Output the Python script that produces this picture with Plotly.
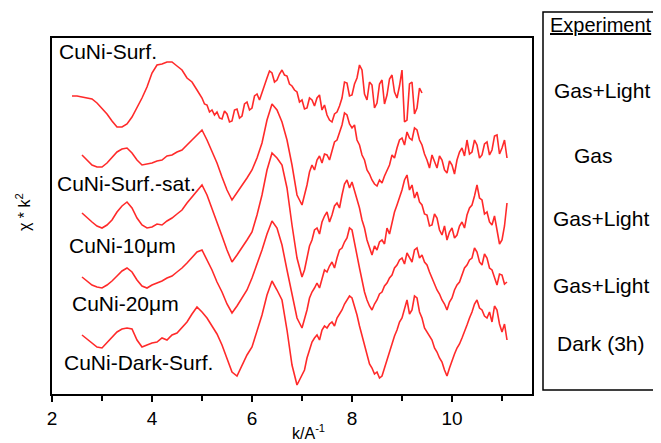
import numpy as np
import plotly.graph_objects as go

# ---- data (chi*k^2, stacked with vertical offsets, arbitrary units) ----
k_surf = np.round(np.concatenate([np.arange(2.4, 4.95, 0.1), np.arange(5.0, 9.4 + 1e-9, 0.05)]), 2)
k_all = np.round(np.concatenate([np.arange(2.6, 6.95, 0.1), np.arange(7.0, 11.1 + 1e-9, 0.05)]), 2)

cuni_surf = [29.8, 29.8, 29.7, 29.6, 29.5, 29.1, 28.6, 28.0, 27.3, 26.7,
             26.7, 27.0, 27.7, 28.6, 29.6, 30.7, 32.1, 32.9, 33.0, 33.2,
             33.2, 32.8, 32.4, 31.6, 31.2, 30.4,
             29.6, 29.0, 28.9, 28.2, 28.4, 27.9, 28.2, 27.6, 27.5, 28.3,
             28.0, 27.2, 27.3, 28.4, 28.5, 27.6, 27.8, 29.0, 29.2, 28.4,
             28.6, 29.8, 30.0, 29.4, 30.2, 31.0, 31.6, 32.3, 32.1, 31.2,
             31.4, 32.0, 32.4, 31.9, 31.8, 31.0, 30.8, 30.4, 30.2, 29.2,
             29.4, 28.5, 28.6, 29.6, 29.4, 28.8, 29.6, 29.9, 28.4, 28.9,
             27.9, 27.4, 27.2, 28.0, 28.2, 28.8, 29.6, 31.2, 31.1, 29.8,
             29.9, 31.0, 31.6, 32.9, 32.4, 30.0, 29.4, 31.2, 30.9, 28.6,
             29.1, 31.0, 31.4, 29.0, 29.9, 31.5, 31.9, 30.2, 29.6, 30.8,
             32.4, 27.2, 27.4, 31.0, 31.2, 28.0, 28.6, 30.6, 30.1]

cuni_surf_sat = [23.9, 23.4, 22.9, 22.7, 22.7, 23.1, 23.7, 24.2, 24.5, 24.6,
                 24.1, 23.4, 22.9, 23.0, 23.1, 23.3, 23.4, 23.8, 23.9, 24.2,
                 24.4, 24.9, 25.4, 25.8, 26.4, 25.4, 24.2, 23.1, 21.7, 20.4,
                 19.4, 20.1, 20.9, 21.6, 22.4, 23.6, 25.1, 27.4, 29.0, 28.4,
                 27.2, 25.4, 22.9, 19.9,
                 18.9, 19.8, 20.9, 22.2, 22.9, 22.4, 23.4, 23.8, 23.1, 24.0,
                 23.9, 23.4, 24.4, 25.2, 25.4, 26.2, 26.9, 28.1, 27.9, 27.0,
                 26.6, 26.9, 25.4, 24.9, 23.9, 23.4, 22.4, 22.0, 21.4, 21.0,
                 20.8, 21.4, 21.1, 21.8, 22.4, 22.9, 23.9, 23.6, 24.6, 25.4,
                 25.6, 24.9, 26.2, 25.6, 25.4, 26.6, 26.4, 25.4, 24.9, 24.0,
                 23.4, 22.6, 23.9, 23.2, 22.6, 23.8, 23.4, 22.4, 22.1, 23.3,
                 22.9, 22.0, 23.4, 24.2, 24.6, 23.8, 25.4, 24.0, 24.2, 25.4,
                 24.9, 23.6, 23.9, 25.0, 25.2, 23.9, 24.4, 25.8, 25.9, 24.0,
                 24.6, 25.4, 23.6]

cuni_10um = [18.1, 17.6, 17.2, 16.8, 16.6, 16.9, 17.4, 18.2, 18.8, 19.2,
             18.6, 17.6, 16.9, 16.6, 16.7, 17.0, 16.9, 17.3, 17.6, 18.0,
             18.4, 19.1, 19.7, 20.2, 20.9, 19.9, 18.6, 17.2, 15.8, 14.4,
             13.2, 13.9, 14.6, 15.4, 16.2, 17.9, 19.9, 22.4, 24.1, 23.6,
             22.9, 20.6, 16.9, 13.6,
             11.7, 12.4, 13.6, 14.8, 15.4, 16.4, 16.6, 16.0, 17.2, 17.8,
             18.2, 17.2, 17.9, 18.8, 19.1, 18.6, 19.9, 21.0, 21.4, 20.6,
             21.2, 20.4, 19.4, 18.6, 17.4, 16.6, 15.4, 14.6, 13.9, 14.8,
             14.4, 15.2, 15.4, 15.0, 16.6, 16.0, 17.2, 18.2, 18.9, 19.6,
             20.4, 21.4, 21.9, 20.4, 20.9, 19.6, 20.2, 19.2, 18.9, 18.0,
             17.9, 16.8, 16.9, 18.0, 17.6, 16.4, 15.9, 16.8, 15.4, 16.2,
             16.6, 15.6, 15.9, 16.8, 17.2, 16.6, 17.9, 18.6, 18.9, 19.8,
             20.9, 19.6, 19.4, 18.0, 18.2, 17.2, 16.9, 17.8, 16.2, 15.0,
             15.4, 16.8, 19.1]

cuni_20um = [11.7, 11.3, 10.9, 10.7, 10.6, 10.9, 11.3, 11.8, 12.3, 12.6,
             12.2, 11.4, 10.8, 10.6, 10.9, 11.1, 11.3, 11.6, 11.8, 12.2,
             12.6, 13.1, 13.6, 14.2, 14.4, 13.4, 12.4, 11.2, 10.2, 9.0,
             8.1, 8.8, 9.6, 10.4, 11.6, 12.9, 14.4, 16.0, 17.3, 16.6,
             14.9, 12.4, 9.9, 7.6,
             6.6, 7.4, 8.4, 9.6, 10.2, 10.6, 11.1, 10.6, 11.6, 12.4,
             12.2, 12.8, 13.2, 12.6, 13.6, 14.4, 14.6, 15.2, 15.6, 16.6,
             16.4, 15.0, 13.9, 12.6, 11.4, 10.2, 9.4, 8.8, 8.4, 9.0,
             9.4, 10.0, 10.2, 10.8, 11.1, 11.6, 11.9, 12.6, 12.9, 13.4,
             13.6, 13.0, 14.1, 13.6, 13.2, 14.4, 14.6, 13.6, 13.9, 13.2,
             12.9, 12.2, 11.6, 11.0, 10.4, 10.0, 9.4, 9.0, 8.4, 9.2,
             9.6, 10.4, 10.9, 11.2, 11.9, 12.6, 12.9, 13.4, 13.6, 14.6,
             14.2, 13.2, 12.9, 14.0, 13.6, 12.6, 12.4, 11.6, 10.9, 12.0,
             11.9, 11.0, 11.2]

cuni_dark_surf = [5.9, 5.5, 5.1, 4.7, 4.6, 5.1, 5.6, 6.2, 6.5, 6.6,
                  6.5, 5.4, 4.7, 4.9, 5.1, 5.2, 5.6, 5.4, 5.9, 6.1,
                  6.6, 7.2, 8.0, 8.7, 8.2, 7.6, 6.8, 6.0, 4.9, 3.6,
                  2.2, 1.8, 2.8, 3.9, 4.7, 6.2, 7.9, 9.9, 11.3, 10.4,
                  9.4, 6.4, 2.9, 0.9,
                  1.9, 2.4, 3.6, 4.4, 5.2, 5.6, 5.9, 5.4, 6.4, 6.8,
                  6.6, 7.0, 7.2, 6.8, 7.6, 8.0, 8.4, 9.0, 9.4, 9.8,
                  9.6, 8.8, 7.9, 6.8, 5.9, 4.8, 3.9, 3.0, 2.6, 2.0,
                  2.2, 1.6, 1.8, 2.6, 3.4, 4.4, 5.0, 5.8, 6.4, 7.2,
                  7.6, 8.6, 9.4, 8.0, 8.4, 9.8, 9.6, 8.2, 7.6, 6.6,
                  6.2, 5.8, 5.4, 4.6, 4.2, 3.6, 3.2, 2.4, 1.8, 2.6,
                  3.4, 4.0, 4.6, 5.0, 5.6, 6.2, 6.9, 7.6, 8.2, 9.0,
                  9.4, 8.6, 8.4, 7.8, 7.6, 8.2, 7.2, 8.8, 8.4, 7.0,
                  6.2, 7.0, 5.4]

sample_labels = ["CuNi-Surf.", "CuNi-Surf.-sat.", "CuNi-10μm", "CuNi-20μm", "CuNi-Dark-Surf."]
experiment_labels = ["Gas+Light", "Gas", "Gas+Light", "Gas+Light", "Dark (3h)"]

series = [(k_surf, cuni_surf), (k_all, cuni_surf_sat), (k_all, cuni_10um),
          (k_all, cuni_20um), (k_all, cuni_dark_surf)]
for kx, vals in series:
    assert len(kx) == len(vals), (len(kx), len(vals))

RED = "#ff2a2a"
FONT = "Liberation Sans, Arial, sans-serif"

fig = go.Figure()
for (kx, vals), name in zip(series, sample_labels):
    fig.add_trace(go.Scatter(x=kx, y=vals, mode="lines", name=name,
                             line=dict(color=RED, width=1.6), showlegend=False))

# page is rendered with an 8px body margin -> compensate
OFF = 8
PAGE_W, PAGE_H = 661, 443
PL, PR, PT, PB = 52, 532, 38, 394       # plot area in page pixels
W, H = PAGE_W - OFF, PAGE_H - OFF
L, T = PL - OFF, PT - OFF
R = W - L - (PR - PL)
B = H - T - (PB - PT)
pw, ph = PR - PL, PB - PT

def px_to_paper_x(px):
    return (px - PL) / pw

def py_to_paper_y(py):
    return (PB - py) / ph

fig.update_layout(
    width=W, height=H,
    margin=dict(l=L, r=R, t=T, b=B, pad=0),
    plot_bgcolor="white", paper_bgcolor="white",
    font=dict(family=FONT, color="black"),
    xaxis=dict(range=[2, 11.6], tickvals=[2, 4, 6, 8, 10], ticks="outside",
               ticklen=6, tickwidth=1.5, tickcolor="black",
               minor=dict(tickvals=[3, 5, 7, 9, 11], ticks="outside", ticklen=5,
                          tickwidth=1.5, tickcolor="black"),
               showline=True, linecolor="black", linewidth=2, mirror=True,
               showgrid=False, zeroline=False, tickfont=dict(size=19)),
    yaxis=dict(range=[0, 35.6], showticklabels=False, ticks="",
               showline=True, linecolor="black", linewidth=2, mirror=True,
               showgrid=False, zeroline=False),
)

annotations = []
annotations.append(dict(text="k/A<sup>-1</sup>", x=px_to_paper_x(308), y=py_to_paper_y(432),
                        xref="paper", yref="paper", showarrow=False,
                        font=dict(size=16), xanchor="center", yanchor="middle"))
annotations.append(dict(text="χ * k<sup>2</sup>", x=px_to_paper_x(23), y=py_to_paper_y(212),
                        xref="paper", yref="paper", showarrow=False, textangle=-90,
                        font=dict(size=16), xanchor="center", yanchor="middle"))

label_pos = [(57, 52), (55, 183), (67, 245), (70, 303), (62, 362)]
for text, (lx, ly) in zip(sample_labels, label_pos):
    annotations.append(dict(text=text, x=px_to_paper_x(lx), y=py_to_paper_y(ly),
                            xref="paper", yref="paper", showarrow=False,
                            font=dict(size=21), xanchor="left", yanchor="middle"))

annotations.append(dict(text="<u>Experiment</u>", x=px_to_paper_x(601), y=py_to_paper_y(25),
                        xref="paper", yref="paper", showarrow=False,
                        font=dict(size=20), xanchor="center", yanchor="middle"))
exp_y = [90, 155, 218, 285, 343]
exp_x = [602, 593, 601, 601, 601]
for text, ex, ey in zip(experiment_labels, exp_x, exp_y):
    annotations.append(dict(text=text, x=px_to_paper_x(ex), y=py_to_paper_y(ey),
                            xref="paper", yref="paper", showarrow=False,
                            font=dict(size=21), xanchor="center", yanchor="middle"))

fig.update_layout(annotations=annotations)
fig.add_shape(type="rect", xref="paper", yref="paper",
              x0=px_to_paper_x(543), x1=px_to_paper_x(659.5),
              y0=py_to_paper_y(390), y1=py_to_paper_y(12),
              line=dict(color="black", width=1.5), fillcolor="rgba(0,0,0,0)")

fig.write_html("out.html")
